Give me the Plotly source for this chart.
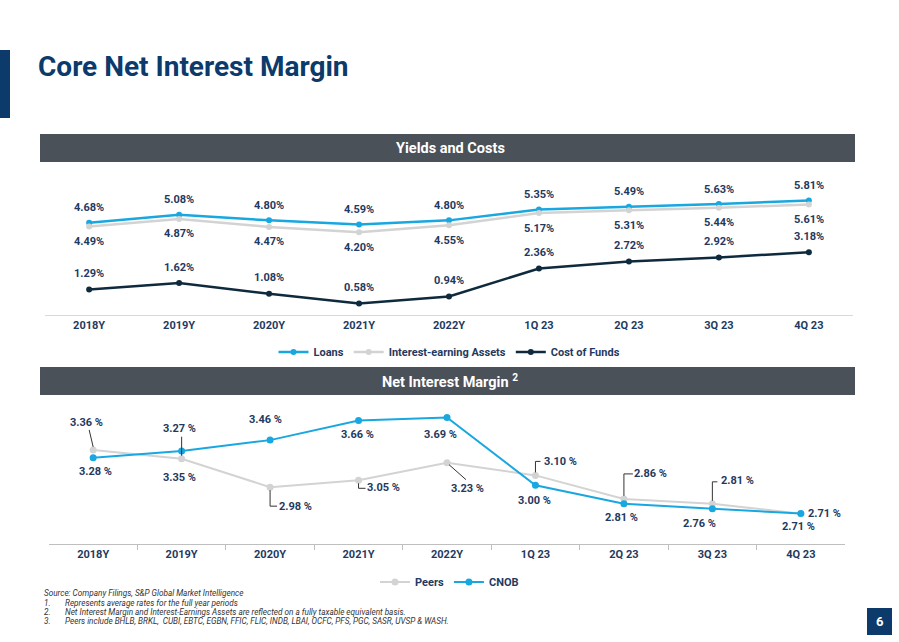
import plotly.graph_objects as go

categories = ["2018Y", "2019Y", "2020Y", "2021Y", "2022Y", "1Q 23", "2Q 23", "3Q 23", "4Q 23"]
loans = [4.68, 5.08, 4.80, 4.59, 4.80, 5.35, 5.49, 5.63, 5.81]
iea = [4.49, 4.87, 4.47, 4.20, 4.55, 5.17, 5.31, 5.44, 5.61]
cost_funds = [1.29, 1.62, 1.08, 0.58, 0.94, 2.36, 2.72, 2.92, 3.18]
peers = [3.36, 3.27, 2.98, 3.05, 3.23, 3.10, 2.86, 2.81, 2.71]
cnob = [3.28, 3.35, 3.46, 3.66, 3.69, 3.00, 2.81, 2.76, 2.71]

W, H = 899, 642
NAVY = "#0B3A6B"
TXT = "#1F3A60"
BLUE = "#19A7E0"
GRAY = "#D3D3D3"
DARK = "#0E2A3C"
BANNER = "#4A5159"
FONT = "Roboto"


def px(x):
    return x / W


def py(y):
    return 1 - y / H


fig = go.Figure()

# Chart 1
fig.add_trace(go.Scatter(x=categories, y=loans, name="Loans", mode="lines+markers",
                         line=dict(color=BLUE, width=2.5), marker=dict(size=6, color=BLUE),
                         xaxis="x", yaxis="y", legend="legend"))
fig.add_trace(go.Scatter(x=categories, y=iea, name="Interest-earning Assets", mode="lines+markers",
                         line=dict(color=GRAY, width=2.5), marker=dict(size=6, color=GRAY),
                         xaxis="x", yaxis="y", legend="legend"))
fig.add_trace(go.Scatter(x=categories, y=cost_funds, name="Cost of Funds", mode="lines+markers",
                         line=dict(color=DARK, width=2.5), marker=dict(size=6, color=DARK),
                         xaxis="x", yaxis="y", legend="legend"))

# Chart 2
fig.add_trace(go.Scatter(x=categories, y=peers, name="Peers", mode="lines+markers",
                         line=dict(color=GRAY, width=2), marker=dict(size=7, color=GRAY),
                         xaxis="x2", yaxis="y2", legend="legend2"))
fig.add_trace(go.Scatter(x=categories, y=cnob, name="CNOB", mode="lines+markers",
                         line=dict(color=BLUE, width=2), marker=dict(size=7, color=BLUE),
                         xaxis="x2", yaxis="y2", legend="legend2"))

annotations = []
shapes = []

lab_font = dict(family=FONT, size=11, color=TXT, weight="bold")

for i, c in enumerate(categories):
    annotations.append(dict(x=c, y=loans[i], xref="x", yref="y", text=f"{loans[i]:.2f}%",
                            showarrow=False, yshift=15, font=lab_font))
    annotations.append(dict(x=c, y=iea[i], xref="x", yref="y", text=f"{iea[i]:.2f}%",
                            showarrow=False, yshift=-15, font=lab_font))
    annotations.append(dict(x=c, y=cost_funds[i], xref="x", yref="y", text=f"{cost_funds[i]:.2f}%",
                            showarrow=False, yshift=16, font=lab_font))

# label offsets (dx, dy screen px, dy down positive)
peer_off = [(-7, -27), (-2, -30), (25, 19), (25, 7), (20, 26), (25, -14), (27, -25), (25, -23), (24, 0)]
cnob_off = [(2, 14), (-2, 27), (-5, -21), (-1, 14), (-7, 17), (-1, 15), (-2, 14), (-13, 15), (-2, 13)]
for i, c in enumerate(categories):
    dx, dy = peer_off[i]
    annotations.append(dict(x=c, y=peers[i], xref="x2", yref="y2", text=f"{peers[i]:.2f} %",
                            showarrow=False, xshift=dx, yshift=-dy, font=lab_font))
    dx, dy = cnob_off[i]
    annotations.append(dict(x=c, y=cnob[i], xref="x2", yref="y2", text=f"{cnob[i]:.2f} %",
                            showarrow=False, xshift=dx, yshift=-dy, font=lab_font))

# leader lines for peers labels (screen px, dy down)
leaders = {
    0: [(-4, -20), (0, -3)],
    1: [(0, -22), (0, -3)],
    2: [(0, 3), (0, 19), (7, 19)],
    3: [(0, 3), (0, 8), (7, 8)],
    4: [(2, 2), (19, 17)],
    5: [(0, -3), (0, -14), (5, -14)],
    6: [(0, -3), (0, -25), (9, -25)],
    7: [(0, -3), (0, -22), (5, -22)],
}
for i, pts in leaders.items():
    path = "M " + " L ".join(f"{dx},{-dy}" for dx, dy in pts)
    shapes.append(dict(type="path", xref="x2", yref="y2", xsizemode="pixel", ysizemode="pixel",
                       xanchor=i, yanchor=peers[i], path=path,
                       line=dict(color="#333333", width=1)))


def paper_text(x, y, text, font, xanchor="center"):
    annotations.append(dict(x=px(x), y=py(y), xref="paper", yref="paper", text=text,
                            showarrow=False, xanchor=xanchor, yanchor="middle", font=font))


# Banners
for (y0, y1, text) in [(134, 162, "Yields and Costs"), (367, 395, "Net Interest Margin <sup>2</sup>")]:
    shapes.append(dict(type="rect", xref="paper", yref="paper", x0=px(40), x1=px(855),
                       y0=py(y1), y1=py(y0), fillcolor=BANNER, line=dict(width=0), layer="below"))
    paper_text(450, (y0 + y1) / 2, text, dict(family=FONT, size=14.5, color="white", weight="bold"))

# Title bar and title
shapes.append(dict(type="rect", xref="paper", yref="paper", x0=0, x1=px(10), y0=py(118), y1=py(50),
                   fillcolor=NAVY, line=dict(width=0)))
paper_text(36, 66, "Core Net Interest Margin", dict(family=FONT, size=28, color=NAVY, weight="bold"),
           xanchor="left")

# Page number
shapes.append(dict(type="rect", xref="paper", yref="paper", x0=px(867), x1=px(892), y0=py(635), y1=py(608),
                   fillcolor=NAVY, line=dict(width=0)))
paper_text(879.5, 621.5, "6", dict(family=FONT, size=13, color="white", weight="bold"))

# Footnotes
foot_font = dict(family=FONT, size=8.2, color="#333333", style="italic")
paper_text(42, 593, "Source: Company Filings, S&P Global Market Intelligence", foot_font, xanchor="left")
notes = [
    "Represents average rates for the full year periods",
    "Net Interest Margin and Interest-Earnings Assets are reflected on a fully taxable equivalent basis.",
    "Peers include BHLB, BRKL,  CUBI, EBTC, EGBN, FFIC, FLIC, INDB, LBAI, OCFC, PFS, PGC, SASR, UVSP & WASH.",
]
for k, n in enumerate(notes):
    yy = 602.5 + k * 9.3
    paper_text(42, yy, f"{k + 1}.", foot_font, xanchor="left")
    paper_text(63, yy, n, foot_font, xanchor="left")

tick_font = dict(family=FONT, size=11, color=TXT, weight="bold")
leg_font = dict(family=FONT, size=11, color=TXT, weight="bold")

fig.update_layout(
    width=W, height=H, margin=dict(l=0, r=0, t=0, b=0),
    paper_bgcolor="white", plot_bgcolor="white",
    font=dict(family=FONT),
    xaxis=dict(domain=[px(45), px(853)], type="category", showgrid=False, zeroline=False,
               showline=True, linecolor="#D9D9D9", linewidth=1, ticks="", tickfont=tick_font,
               anchor="y", fixedrange=True),
    yaxis=dict(domain=[py(315), py(177)], range=[0, 7], visible=False, anchor="x", fixedrange=True),
    xaxis2=dict(domain=[px(49), px(845)], type="category", showgrid=False, zeroline=False,
                showline=True, linecolor="#BFBFBF", linewidth=1, ticks="outside", tickson="boundaries",
                ticklen=5, tickcolor="#BFBFBF", tickfont=tick_font, anchor="y2", fixedrange=True),
    yaxis2=dict(domain=[py(544), py(397)], range=[2.4, 3.9], visible=False, anchor="x2", fixedrange=True),
    legend=dict(orientation="h", x=0.5, xanchor="center", y=py(352), yanchor="middle",
                font=leg_font, bgcolor="rgba(0,0,0,0)", itemwidth=30, tracegroupgap=0),
    legend2=dict(orientation="h", x=0.5, xanchor="center", y=py(582), yanchor="middle",
                 font=leg_font, bgcolor="rgba(0,0,0,0)", itemwidth=30),
    annotations=annotations, shapes=shapes, showlegend=True,
)

fig.write_html("out.html")
